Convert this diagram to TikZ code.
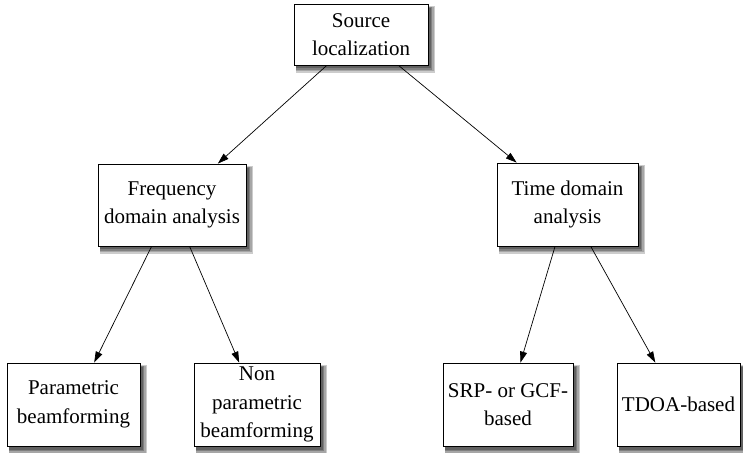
\documentclass[tikz,border=0pt]{standalone}
\usepackage{fontspec}
\setmainfont{Liberation Serif}
\newfontfamily\boxfont{Liberation Serif}
\usetikzlibrary{arrows.meta}
\definecolor{shA}{gray}{0.8}
\definecolor{shB}{gray}{0.65}
\definecolor{shC}{gray}{0.5}
\definecolor{shD}{gray}{0.38}
% #1 name, #2 cx, #3 cy (from top), #4 w, #5 h, #6 text
\newcommand{\shbox}[6]{%
  \fill[shA] (#2-#4/2+2, 452-#3-#5/2-8) rectangle (#2+#4/2+7, 452-#3+#5/2-2);
  \fill[shB] (#2-#4/2+2, 452-#3-#5/2-6.5) rectangle (#2+#4/2+5.5, 452-#3+#5/2-3);
  \fill[shC] (#2-#4/2+2, 452-#3-#5/2-5) rectangle (#2+#4/2+4, 452-#3+#5/2-3.5);
  \fill[shD] (#2-#4/2+2, 452-#3-#5/2-3.5) rectangle (#2+#4/2+2.5, 452-#3+#5/2-4);
  \node[box, minimum width=#4pt, minimum height=#5pt] (#1) at (#2, 452-#3) {#6};}
\begin{document}
\begin{tikzpicture}[x=1pt,y=1pt,
  box/.style={draw=black, line width=0.8pt, fill=white, align=center, inner sep=0pt,
    font=\boxfont\fontsize{21}{28.5}\selectfont},
  arr/.style={-{Triangle[length=11pt,width=7pt]}, line width=0.7pt}]
\useasboundingbox (0,0) rectangle (743,452);
\shbox{src}{361}{34.5}{134}{61}{Source\\localization}
\shbox{freq}{172}{205}{148}{82}{Frequency\\domain analysis}
\shbox{time}{567.5}{204.5}{141}{83}{Time domain\\analysis}
\shbox{param}{73.5}{404.5}{133}{83}{Parametric\\beamforming}
\shbox{nonparam}{257}{404.5}{126}{83}{Non\\parametric\\beamforming}
\shbox{srp}{508}{404.5}{130}{83}{SRP- or GCF-\\based}
\shbox{tdoa}{678.5}{404.5}{123}{83}{TDOA-based}
\draw[arr] (src) -- (freq);
\draw[arr] (src) -- (time);
\draw[arr] (freq) -- (param);
\draw[arr] (freq) -- (nonparam);
\draw[arr] (time) -- (srp);
\draw[arr] (time) -- (tdoa);
\end{tikzpicture}
\end{document}
